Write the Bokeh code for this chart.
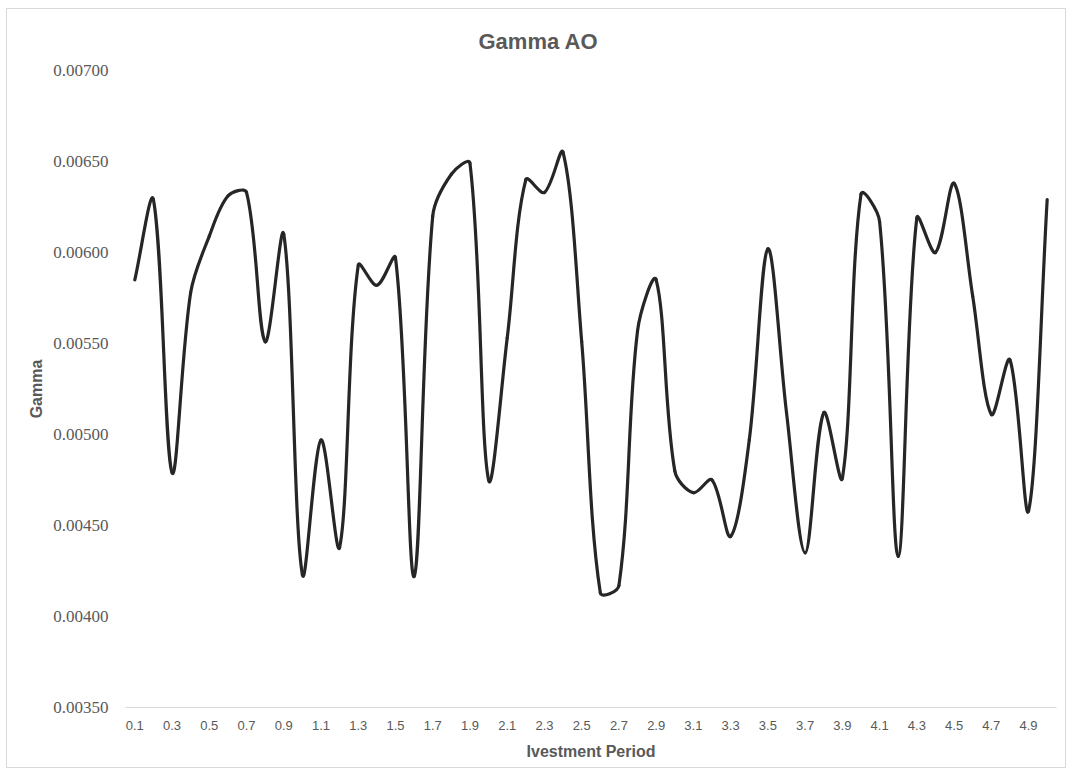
from bokeh.plotting import figure
from bokeh.models import Range1d, FixedTicker, PrintfTickFormatter, Title
from bokeh.embed import file_html
from bokeh.resources import INLINE
import numpy as np

# ---- data ----
periods = ["0.1", "0.2", "0.3", "0.4", "0.5", "0.6", "0.7", "0.8", "0.9", "1.0",
           "1.1", "1.2", "1.3", "1.4", "1.5", "1.6", "1.7", "1.8", "1.9", "2.0",
           "2.1", "2.2", "2.3", "2.4", "2.5", "2.6", "2.7", "2.8", "2.9", "3.0",
           "3.1", "3.2", "3.3", "3.4", "3.5", "3.6", "3.7", "3.8", "3.9", "4.0",
           "4.1", "4.2", "4.3", "4.4", "4.5", "4.6", "4.7", "4.8", "4.9", "5.0"]
gamma = [0.00585, 0.00629, 0.00479, 0.00578, 0.00609, 0.00631, 0.00633, 0.00551, 0.00610, 0.00423,
         0.00497, 0.00438, 0.00593, 0.00582, 0.00597, 0.00422, 0.00620, 0.00643, 0.00649, 0.00475,
         0.00553, 0.00640, 0.00633, 0.00655, 0.00551, 0.00413, 0.00417, 0.00557, 0.00585, 0.00480,
         0.00468, 0.00475, 0.00444, 0.00497, 0.00602, 0.00512, 0.00435, 0.00512, 0.00476, 0.00632,
         0.00617, 0.00433, 0.00619, 0.00600, 0.00638, 0.00576, 0.00511, 0.00541, 0.00458, 0.00629]
y_ticks = [0.0035, 0.0040, 0.0045, 0.0050, 0.0055, 0.0060, 0.0065, 0.0070]
title_text = "Gamma AO"
x_title = "Ivestment Period"
y_title = "Gamma"

# ---- geometry of the frame ----
W, H = 1060, 760
ML, MR, MT, MB = 118, 11, 61, 62
frame_w = W - ML - MR
frame_h = H - MT - MB

# ---- smoothed line: Bezier segments through the data points, tangents weighted by
#      on-screen segment lengths (similar to a spreadsheet "smoothed line") ----
xs = np.arange(len(gamma), dtype=float)
ys = np.array(gamma, dtype=float)
sx = frame_w / len(gamma)
sy = frame_h / (y_ticks[-1] - y_ticks[0])
xp = np.concatenate([[xs[0]], xs, [xs[-1]]])
yp = np.concatenate([[ys[0]], ys, [ys[-1]]])
seg = np.hypot(np.diff(xp) * sx, np.diff(yp) * sy)
tx = xp[2:] - xp[:-2]
ty = yp[2:] - yp[:-2]
d_in = seg[:-1]
d_out = seg[1:]
tot = d_in + d_out
safe = np.where(tot > 0, tot, 1)
r_out = np.where(tot > 0, d_out / safe, 0.5)
r_in = np.where(tot > 0, d_in / safe, 0.5)
k = 1.0 / 3.0
cx0 = xs[:-1] + tx[:-1] * r_out[:-1] * k
cy0 = ys[:-1] + ty[:-1] * r_out[:-1] * k
cx1 = xs[1:] - tx[1:] * r_in[1:] * k
cy1 = ys[1:] - ty[1:] * r_in[1:] * k

p = figure(width=W, height=H, output_backend="svg", toolbar_location=None,
           x_range=Range1d(-0.5, len(gamma) - 0.5), y_range=Range1d(y_ticks[0], y_ticks[-1]),
           min_border_left=ML, min_border_right=MR, min_border_top=MT, min_border_bottom=MB,
           background_fill_color="white", border_fill_color="white",
           styles={"border": "1px solid #d9d9d9", "margin-left": "6px", "margin-top": "8px"})
p.outline_line_color = None
p.xgrid.grid_line_color = None
p.ygrid.grid_line_color = None

p.bezier(x0=xs[:-1], y0=ys[:-1], x1=xs[1:], y1=ys[1:], cx0=cx0, cy0=cy0, cx1=cx1, cy1=cy1,
         line_color="#262626", line_width=3.2, line_cap="round", line_join="round")

# title
t = Title(text=title_text, align="left", text_font="Liberation Sans", text_font_size="22px",
          text_font_style="bold", text_color="#595959", offset=353, standoff=33)
p.add_layout(t, "above")

# x axis
xa = p.xaxis[0]
xa.ticker = FixedTicker(ticks=list(range(0, len(periods), 2)))
xa.major_label_overrides = {i: periods[i] for i in range(0, len(periods), 2)}
xa.major_tick_line_color = None
xa.minor_tick_line_color = None
xa.axis_line_color = "#d9d9d9"
xa.axis_line_width = 1
xa.major_label_text_font = "Liberation Sans"
xa.major_label_text_font_size = "13px"
xa.major_label_text_color = "#595959"
xa.major_label_standoff = 7
xa.axis_label = x_title
xa.axis_label_text_font = "Liberation Sans"
xa.axis_label_text_font_size = "16px"
xa.axis_label_text_font_style = "bold"
xa.axis_label_text_color = "#595959"
xa.axis_label_standoff = 10

# y axis
ya = p.yaxis[0]
ya.ticker = FixedTicker(ticks=y_ticks)
ya.formatter = PrintfTickFormatter(format="%.5f")
ya.major_tick_line_color = None
ya.minor_tick_line_color = None
ya.axis_line_color = None
ya.major_label_text_font = "Liberation Serif"
ya.major_label_text_font_size = "17px"
ya.major_label_text_color = "#595959"
ya.major_label_standoff = 11
ya.axis_label = y_title
ya.axis_label_text_font = "Liberation Sans"
ya.axis_label_text_font_size = "16px"
ya.axis_label_text_font_style = "bold"
ya.axis_label_text_color = "#595959"
ya.axis_label_standoff = 5

open("out.html", "w").write(file_html(p, INLINE))
